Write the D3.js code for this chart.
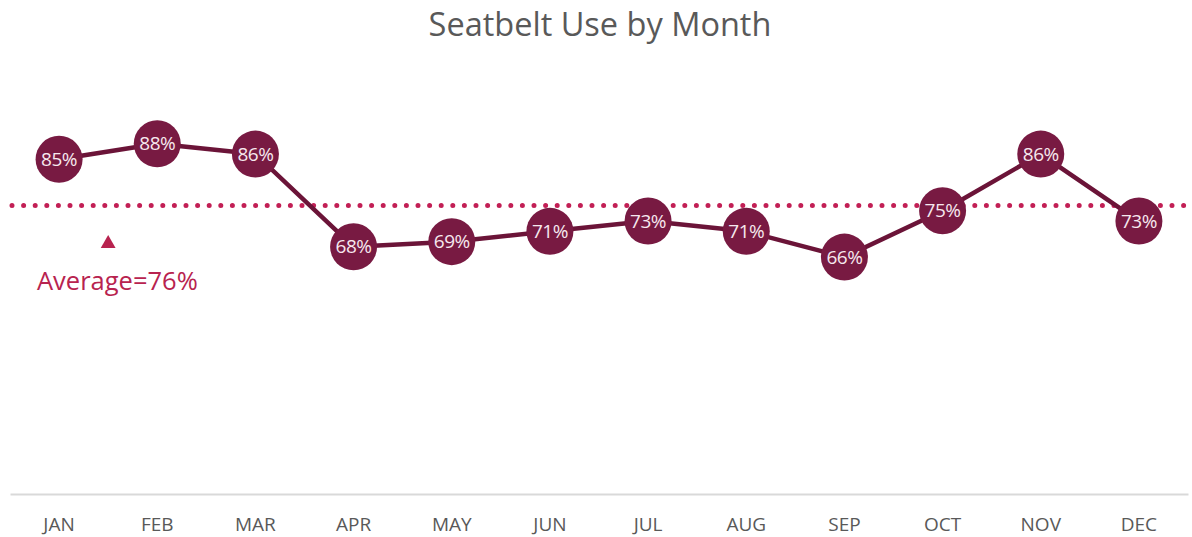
<!DOCTYPE html>
<html>
<head>
<meta charset="utf-8">
<script src="https://cdn.jsdelivr.net/npm/d3@7"></script>
<style>
  html, body { margin: 0; padding: 0; background: #ffffff; }
  svg { display: block; }
</style>
</head>
<body>
<svg id="chart" width="1192" height="537"></svg>
<script>
// Monthly seatbelt use rates (%)
const months = ["JAN", "FEB", "MAR", "APR", "MAY", "JUN", "JUL", "AUG", "SEP", "OCT", "NOV", "DEC"];
const usage = [85, 88, 86, 68, 69, 71, 73, 71, 66, 75, 86, 73];
const average = 76;
const yDomain = [20, 100];
const titleText = "Seatbelt Use by Month";

const svg = d3.select("#chart");

const x = d3.scaleBand().domain(months).range([10, 1188]);
const y = d3.scaleLinear().domain(yDomain).range([494, 82]);
const cx = m => x(m) + x.bandwidth() / 2;

// Title
svg.append("text")
  .attr("x", 600).attr("y", 36)
  .attr("text-anchor", "middle")
  .attr("font-family", "Open Sans, sans-serif")
  .attr("font-size", 32.5)
  .attr("fill", "#595959")
  .text(titleText);

// Category axis: light baseline with month labels, no ticks
const xAxis = d3.axisBottom(x).tickSize(0).tickPadding(24);
const gx = svg.append("g").attr("transform", `translate(0,${y(yDomain[0])})`).call(xAxis);
gx.select(".domain").attr("stroke", "#d9d9d9").attr("stroke-width", 2);
gx.selectAll("text")
  .attr("font-family", "Open Sans, sans-serif")
  .attr("font-size", 19)
  .attr("fill", "#595959");

// Average reference line (dotted)
svg.append("line")
  .attr("x1", 12).attr("x2", 1192)
  .attr("y1", y(average)).attr("y2", y(average))
  .attr("stroke", "#c21f55")
  .attr("stroke-width", 5)
  .attr("stroke-linecap", "round")
  .attr("stroke-dasharray", "0 11.6");

// Average annotation
const annX = (cx("JAN") + cx("FEB")) / 2;
svg.append("path")
  .attr("d", d3.symbol().type(d3.symbolTriangle).size(95)())
  .attr("transform", `translate(${annX},${y(average) + 38})`)
  .attr("fill", "#b8234f");
svg.append("text")
  .attr("x", 37).attr("y", y(average) + 84)
  .attr("font-family", "Open Sans, sans-serif")
  .attr("font-size", 25.5)
  .attr("fill", "#b8234f")
  .text(`Average=${average}%`);

// Series line
const line = d3.line().x((d, i) => cx(months[i])).y(d => y(d));
svg.append("path")
  .datum(usage)
  .attr("d", line)
  .attr("fill", "none")
  .attr("stroke", "#6b1438")
  .attr("stroke-width", 4.5)
  .attr("stroke-linejoin", "round");

// Markers with value labels
const pts = svg.append("g").selectAll("g")
  .data(usage)
  .join("g")
  .attr("transform", (d, i) => `translate(${cx(months[i])},${y(d)})`);
pts.append("circle")
  .attr("r", 23.5)
  .attr("fill", "#781a42");
pts.append("text")
  .attr("text-anchor", "middle")
  .attr("dy", "0.35em")
  .attr("font-family", "Open Sans, sans-serif")
  .attr("font-size", 19)
  .attr("letter-spacing", -0.5)
  .attr("fill", "#f6e8ee")
  .text(d => d + "%");
</script>
</body>
</html>
